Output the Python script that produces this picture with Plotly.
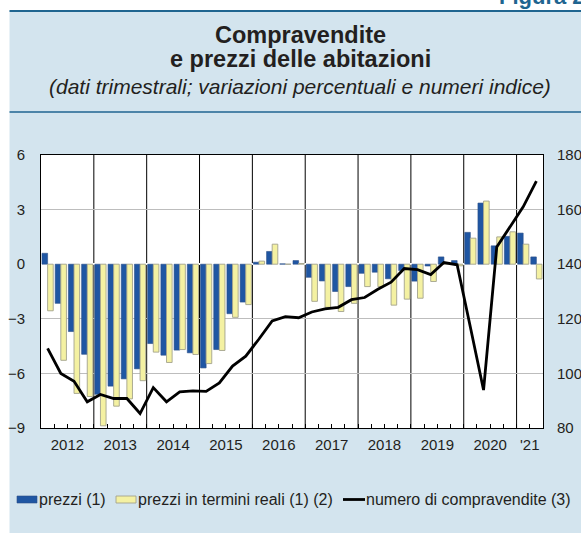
import plotly.graph_objects as go

# ---------------- data ----------------
years = ["2012", "2013", "2014", "2015", "2016", "2017", "2018", "2019", "2020", "'21"]
quarters_per_year = [4, 4, 4, 4, 4, 4, 4, 4, 4, 2]

prezzi = [0.6, -2.15, -3.7, -4.95,
          -7.15, -6.7, -6.3, -5.75,
          -4.36, -5.0, -4.72, -4.87,
          -5.7, -4.69, -2.72, -2.08,
          0.11, 0.7, 0.02, 0.2,
          -0.72, -0.92, -1.5, -1.23,
          -0.5, -0.44, -0.8, -0.35,
          -0.93, -0.1, 0.4, 0.2,
          1.75, 3.36, 1.01, 1.53,
          1.71, 0.4]

prezzi_reali = [-2.56, -5.28, -7.1, -7.27,
                -8.88, -7.8, -7.4, -6.4,
                -4.83, -5.4, -4.69, -4.96,
                -5.46, -4.74, -2.92, -2.22,
                0.17, 1.1, 0.0, 0.04,
                -2.04, -2.37, -2.6, -2.15,
                -1.23, -1.23, -2.25, -1.92,
                -1.87, -0.95, 0.05, -0.09,
                1.43, 3.47, 1.5, 1.78,
                1.1, -0.81]

compravendite = [109.2, 100.0, 97.1, 89.6,
                 92.3, 90.8, 90.8, 85.3,
                 94.8, 89.6, 93.2, 93.6,
                 93.4, 96.5, 102.7, 106.3,
                 112.6, 119.2, 120.8, 120.4,
                 122.5, 123.6, 124.2, 127.0,
                 127.8, 130.8, 133.4, 138.4,
                 138.0, 136.2, 140.6, 139.8,
                 117.0, 93.9, 146.3, 153.8,
                 161.0, 170.4]

left_ticks = [-9, -6, -3, 0, 3, 6]
right_ticks = [80, 100, 120, 140, 160, 180]

legend_labels = ["prezzi (1)", "prezzi in termini reali (1) (2)", "numero di compravendite (3)"]

title_lines = ["Compravendite", "e prezzi delle abitazioni"]
subtitle = "(dati trimestrali; variazioni percentuali e numeri indice)"
figure_tag = "Figura 2"

# ---------------- styles ----------------
BLUE = "#1f56a3"
YELLOW = "#f4f1a2"
PANEL = "#d3e4ee"
TEAL = "#1f6590"
TXT = "#231f20"
FONT = "Liberation Sans, Arial, sans-serif"

W, H = 581, 533
L, R, T, B = 41, 543, 155, 428


def fx(px):
    return (px - L) / (R - L)


def fy(py):
    return (B - py) / (B - T)


n = len(prezzi)
xq = list(range(n))

# year boundaries / centers derived from the categories
starts = []
s = 0
for q in quarters_per_year:
    starts.append(s)
    s += q
year_centers = [st + (q - 1) / 2 for st, q in zip(starts, quarters_per_year)]
year_bounds = [st - 0.5 for st in starts[1:]]
quarter_bounds = [i + 0.5 for i in range(n - 1)]

fig = go.Figure()
fig.add_trace(go.Bar(x=xq, y=prezzi, name=legend_labels[0], marker=dict(color=BLUE, line=dict(color="#2c4f86", width=0.6)),
                     showlegend=False))
fig.add_trace(go.Bar(x=xq, y=prezzi_reali, name=legend_labels[1], marker=dict(color=YELLOW, line=dict(color="#a3a38c", width=0.9)),
                     showlegend=False))
fig.add_trace(go.Scatter(x=xq, y=compravendite, name=legend_labels[2], mode="lines", yaxis="y2",
                         line=dict(color="black", width=2.8), showlegend=False))

shapes = []
# white margins outside the blue panel
shapes.append(dict(type="rect", xref="paper", yref="paper", x0=fx(-5), x1=fx(9.5), y0=fy(540), y1=fy(-5),
                   fillcolor="white", line=dict(width=0), layer="below"))
shapes.append(dict(type="rect", xref="paper", yref="paper", x0=fx(-5), x1=fx(590), y0=fy(11), y1=fy(-5),
                   fillcolor="white", line=dict(width=0), layer="below"))
# header rules
shapes.append(dict(type="line", xref="paper", yref="paper", x0=fx(9.5), x1=fx(590), y0=fy(11), y1=fy(11),
                   line=dict(color=TEAL, width=2)))
shapes.append(dict(type="line", xref="paper", yref="paper", x0=fx(9.5), x1=fx(590), y0=fy(112), y1=fy(112),
                   line=dict(color=TEAL, width=1.5)))
# year separators
for xb in year_bounds:
    shapes.append(dict(type="line", xref="x", yref="paper", x0=xb, x1=xb, y0=0, y1=1,
                       line=dict(color="black", width=1), layer="below"))

# manual legend
ly = 499.5
shapes.append(dict(type="rect", xref="paper", yref="paper", x0=fx(17), x1=fx(37), y0=fy(503), y1=fy(496),
                   fillcolor=BLUE, line=dict(color="#2c4f86", width=0.6)))
shapes.append(dict(type="rect", xref="paper", yref="paper", x0=fx(116), x1=fx(136), y0=fy(503), y1=fy(496),
                   fillcolor=YELLOW, line=dict(color="#a3a38c", width=0.9)))
shapes.append(dict(type="line", xref="paper", yref="paper", x0=fx(343), x1=fx(365), y0=fy(ly), y1=fy(ly),
                   line=dict(color="black", width=2.8)))

annotations = []
annotations.append(dict(text="<b>%s</b>" % title_lines[0], x=fx(300), y=fy(35), xref="paper", yref="paper",
                        xanchor="center", yanchor="middle", showarrow=False, font=dict(size=23.5, color=TXT, family=FONT)))
annotations.append(dict(text="<b>%s</b>" % title_lines[1], x=fx(300), y=fy(59.5), xref="paper", yref="paper",
                        xanchor="center", yanchor="middle", showarrow=False, font=dict(size=23.5, color=TXT, family=FONT)))
annotations.append(dict(text="<i>%s</i>" % subtitle, x=fx(300), y=fy(86), xref="paper", yref="paper",
                        xanchor="center", yanchor="middle", showarrow=False, font=dict(size=21, color=TXT, family=FONT)))
annotations.append(dict(text="<b>%s</b>" % figure_tag, x=fx(497), y=fy(-3.7), xref="paper", yref="paper",
                        xanchor="left", yanchor="middle", showarrow=False, font=dict(size=22, color=TEAL, family=FONT)))
for xt, label in zip([37, 136, 364], legend_labels):
    annotations.append(dict(text=label, x=fx(xt), y=fy(ly), xref="paper", yref="paper",
                            xanchor="left", yanchor="middle", showarrow=False,
                            font=dict(size=16, color=TXT, family=FONT)))

fig.update_layout(
    width=W, height=H, autosize=False,
    margin=dict(l=L, r=W - R, t=T, b=H - B, pad=0, autoexpand=False),
    paper_bgcolor=PANEL, plot_bgcolor="white",
    font=dict(family=FONT, size=15, color=TXT),
    barmode="group", bargap=0.15, bargroupgap=0,
    showlegend=False,
    shapes=shapes, annotations=annotations,
    xaxis=dict(range=[-0.5, n - 0.5], tickvals=year_centers, ticktext=years, ticks="", automargin=False,
               showgrid=False, zeroline=False, showline=True, linecolor="black", linewidth=1, mirror=True,
               ticklabelstandoff=3,
               minor=dict(tickvals=quarter_bounds, ticks="inside", ticklen=4, tickcolor="black", tickwidth=1,
                          showgrid=False),
               tickfont=dict(size=15, color=TXT)),
    yaxis=dict(range=[left_ticks[0], left_ticks[-1]], tickvals=left_ticks, ticks="", automargin=False,
               showgrid=True, gridcolor="#bdbdbd", gridwidth=1.2,
               zeroline=True, zerolinecolor="white", zerolinewidth=1.5,
               showline=True, linecolor="black", linewidth=1, mirror=True,
               ticklabelstandoff=12, tickfont=dict(size=15, color=TXT)),
    yaxis2=dict(range=[right_ticks[0], right_ticks[-1]], tickvals=right_ticks, overlaying="y", side="right",
                ticks="", showgrid=False, zeroline=False, showline=False, automargin=False,
                ticklabelstandoff=13, tickfont=dict(size=15, color=TXT)),
)

fig.write_html("out.html", config={"displayModeBar": False},
               post_script="document.body.style.margin='0';document.body.style.overflow='hidden';")
